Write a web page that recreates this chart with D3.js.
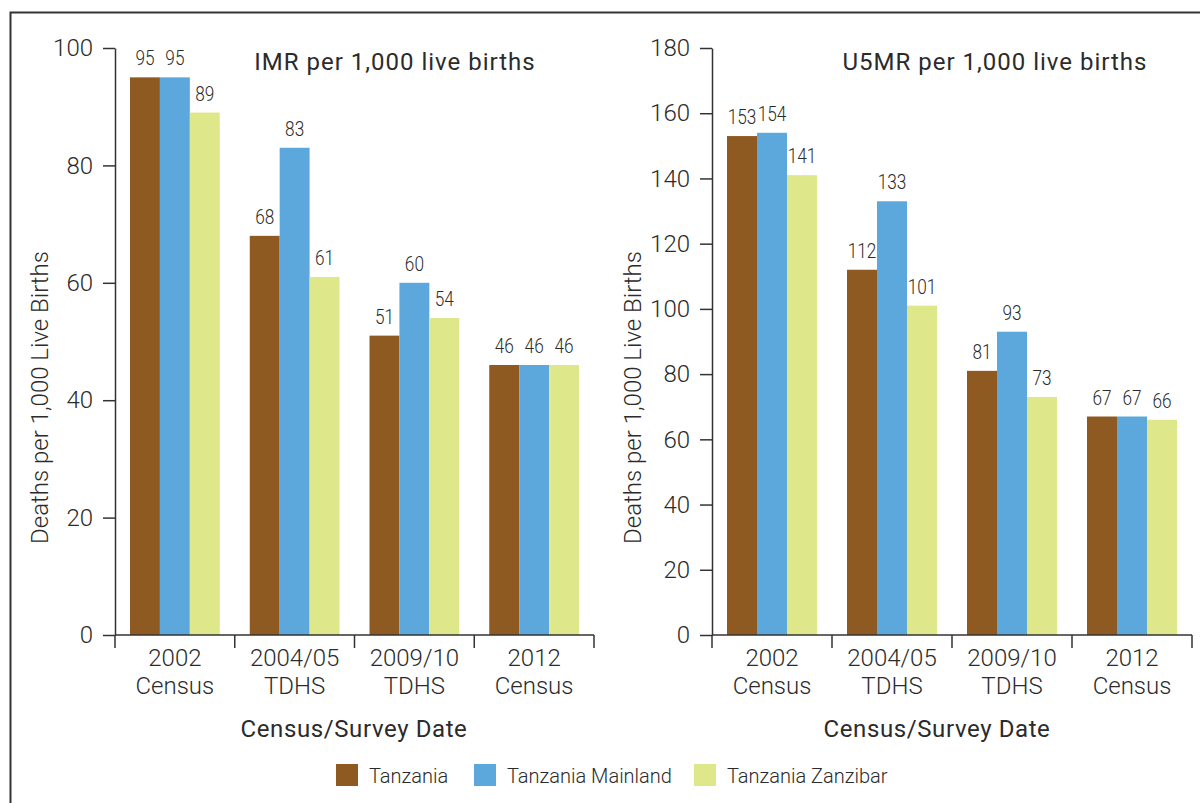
<!DOCTYPE html>
<html>
<head>
<meta charset="utf-8">
<script src="https://cdn.jsdelivr.net/npm/d3@7"></script>
<style>
  html, body { margin: 0; padding: 0; background: #fff; }
  svg text { font-family: Roboto, "Liberation Sans", sans-serif; fill: #2b2b2b; }
</style>
</head>
<body>
<svg id="chart" width="1200" height="803"></svg>
<script>
// Survey rounds shown on the x axis (two-line labels)
const categories = ["2002|Census", "2004/05|TDHS", "2009/10|TDHS", "2012|Census"];
const seriesNames = ["Tanzania", "Tanzania Mainland", "Tanzania Zanzibar"];
const seriesColors = ["#8e5a22", "#5ca8dc", "#dee78a"];

// Infant mortality rate (per 1,000 live births)
const imrTanzania = [95, 68, 51, 46];
const imrMainland = [95, 83, 60, 46];
const imrZanzibar = [89, 61, 54, 46];
const imrTicks = [0, 20, 40, 60, 80, 100];

// Under-five mortality rate (per 1,000 live births)
const u5mrTanzania = [153, 112, 81, 67];
const u5mrMainland = [154, 133, 93, 67];
const u5mrZanzibar = [141, 101, 73, 66];
const u5mrTicks = [0, 20, 40, 60, 80, 100, 120, 140, 160, 180];

const svg = d3.select("#chart");

// outer frame
svg.append("rect")
  .attr("x", 10.5).attr("y", 12.5)
  .attr("width", 1400).attr("height", 1000)
  .attr("fill", "none").attr("stroke", "#333").attr("stroke-width", 2);

function panel(opts) {
  const { x0, x1, yTop, yBottom, max, ticks, series, title, titleX, axisTitleX, yTitleX } = opts;
  const g = svg.append("g");

  const x = d3.scaleBand().domain(categories).range([x0, x1]).paddingInner(0).paddingOuter(0);
  const xs = d3.scaleBand().domain(seriesNames).range([15, x.bandwidth() - 15]).padding(0);
  const y = d3.scaleLinear().domain([0, max]).range([yBottom, yTop]);

  // bars with value labels (narrowed digits)
  categories.forEach((c, ci) => {
    series.forEach((vals, si) => {
      const v = vals[ci];
      const bx = x(c) + xs(seriesNames[si]);
      g.append("rect")
        .attr("x", bx)
        .attr("y", y(v))
        .attr("width", xs.bandwidth())
        .attr("height", y(0) - y(v))
        .attr("fill", seriesColors[si]);
      g.append("text")
        .attr("transform", `translate(${bx + xs.bandwidth() / 2},${y(v) - 12}) scale(0.82,1)`)
        .attr("text-anchor", "middle")
        .style("font-size", "21px")
        .style("font-weight", 300)
        .text(v);
    });
  });

  // y axis
  const yAxis = d3.axisLeft(y).tickValues(ticks).tickSize(12).tickPadding(10).tickSizeOuter(0);
  const ya = g.append("g").attr("transform", `translate(${x0},0)`).call(yAxis);
  ya.select(".domain").attr("stroke", "#333").attr("stroke-width", 1.5);
  ya.selectAll(".tick line").attr("stroke", "#333").attr("stroke-width", 1.5);
  ya.selectAll(".tick text").style("font-size", "24px").style("font-weight", 300).attr("fill", "#2b2b2b");

  // x axis: ticks at band boundaries, labels at band centres
  const xa = g.append("g");
  xa.append("line")
    .attr("x1", x0).attr("x2", x1).attr("y1", y(0)).attr("y2", y(0))
    .attr("stroke", "#333").attr("stroke-width", 1.5);
  const bounds = categories.map(c => x(c)).concat([x1]);
  xa.selectAll("line.b").data(bounds).join("line")
    .attr("class", "b")
    .attr("x1", d => d).attr("x2", d => d)
    .attr("y1", y(0)).attr("y2", y(0) + 13)
    .attr("stroke", "#333").attr("stroke-width", 1.5);
  categories.forEach(c => {
    const [l1, l2] = c.split("|");
    const cx = x(c) + x.bandwidth() / 2;
    xa.append("text").attr("x", cx).attr("y", y(0) + 31).attr("text-anchor", "middle")
      .style("font-size", "24px").style("font-weight", 300).text(l1);
    xa.append("text").attr("x", cx).attr("y", y(0) + 59).attr("text-anchor", "middle")
      .style("font-size", "24px").style("font-weight", 300).text(l2);
  });

  // titles
  g.append("text").attr("x", titleX).attr("y", 70).attr("text-anchor", "middle")
    .style("font-size", "24px").style("font-weight", 400).style("letter-spacing", "1px").text(title);
  g.append("text").attr("x", axisTitleX).attr("y", 737).attr("text-anchor", "middle")
    .style("font-size", "24px").style("font-weight", 400).style("letter-spacing", "0.6px").text("Census/Survey Date");
  g.append("text")
    .attr("transform", `translate(${yTitleX},${(yTop + yBottom) / 2 + 56}) rotate(-90)`)
    .attr("text-anchor", "middle").attr("dy", "0.35em")
    .style("font-size", "24px").style("font-weight", 300)
    .text("Deaths per 1,000 Live Births");
}

panel({
  x0: 115, x1: 594, yTop: 48, yBottom: 635, max: 100, ticks: imrTicks,
  series: [imrTanzania, imrMainland, imrZanzibar],
  title: "IMR per 1,000 live births", titleX: 395, axisTitleX: 354, yTitleX: 40
});
panel({
  x0: 712, x1: 1192, yTop: 48, yBottom: 635, max: 180, ticks: u5mrTicks,
  series: [u5mrTanzania, u5mrMainland, u5mrZanzibar],
  title: "U5MR per 1,000 live births", titleX: 995, axisTitleX: 937, yTitleX: 633
});

// legend
const legendX = [336, 474, 694];
const legend = svg.append("g");
seriesNames.forEach((n, i) => {
  legend.append("rect").attr("x", legendX[i]).attr("y", 764).attr("width", 22).attr("height", 22)
    .attr("fill", seriesColors[i]);
  legend.append("text").attr("x", legendX[i] + 33).attr("y", 783)
    .style("font-size", "20px").style("font-weight", 300).text(n);
});
</script>
</body>
</html>
